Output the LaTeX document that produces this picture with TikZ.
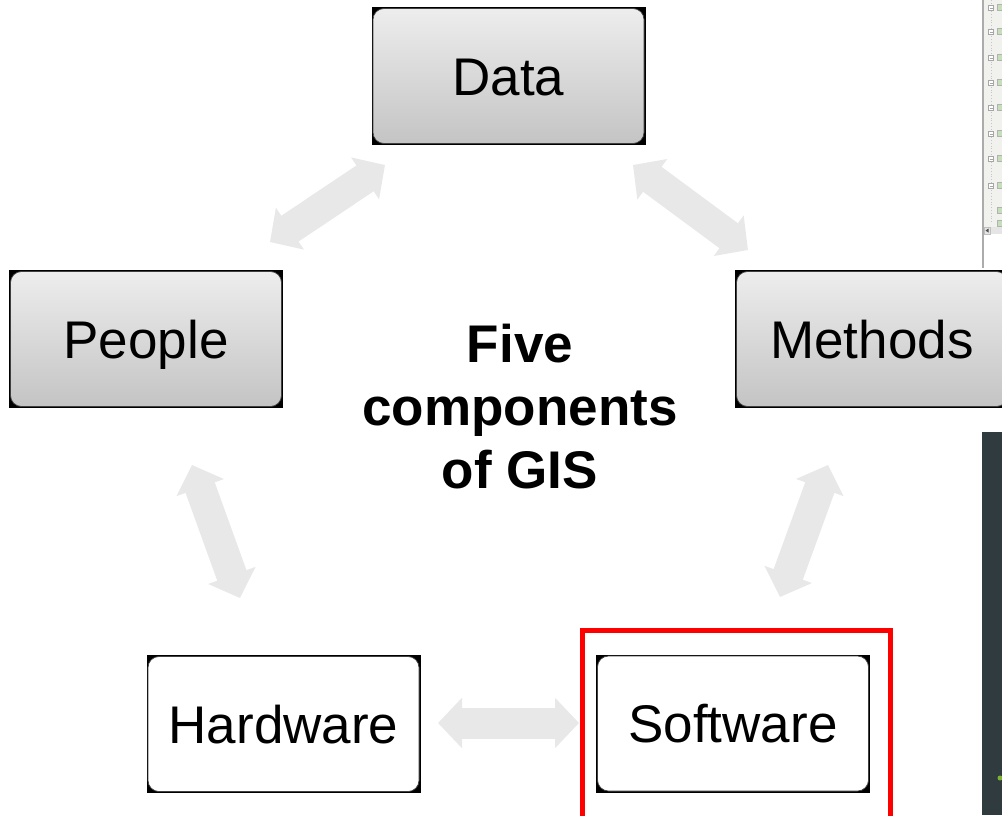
\documentclass[tikz,border=0pt]{standalone}
\usepackage{fontspec}
\setmainfont{Liberation Sans}
\usetikzlibrary{arrows.meta}
\definecolor{boxtop}{HTML}{EDEDED}
\definecolor{boxbot}{HTML}{C4C4C4}
\definecolor{linkgray}{HTML}{E8E8E8}
\definecolor{panelbg}{HTML}{F1F1EE}
\definecolor{darkpanel}{HTML}{2F3B3E}
\definecolor{iconGreen}{HTML}{5DA03A}
\begin{document}
\begin{tikzpicture}[x=1pt,y=-1pt,
  frame/.style={fill=black, minimum width=274pt, minimum height=138pt, inner sep=0pt, outer sep=0pt},
  comp/.style={rounded corners=11pt, draw=black!75, line width=0.7pt,
    minimum width=271pt, minimum height=135pt, inner sep=0pt,
    font=\fontsize{53}{60}\selectfont, text height=38pt, text depth=0pt},
  graycomp/.style={comp, top color=boxtop, bottom color=boxbot},
  whitecomp/.style={comp, fill=white},
  link/.style={draw=linkgray, line width=31pt,
    {Triangle[width=49pt,length=24pt]}-{Triangle[width=49pt,length=24pt]}},
  treeitem/.style={draw=gray!70, fill=white, line width=0.6pt, minimum size=5pt, inner sep=0pt},
  treeicon/.style={draw=gray!60, fill=iconGreen!35, line width=0.5pt, minimum size=6pt, inner sep=0pt}
]
\useasboundingbox (0,0) rectangle (1002,815);
\clip (0,0) rectangle (1002,815);
\fill[white] (0,0) rectangle (1002,815);

% side panels: tree view (top) and dark pane (bottom)
\fill[panelbg] (984,0) rectangle (1002,228);
\draw[gray!45, dotted, line width=0.8pt] (991,0) -- (991,222);
\foreach \yy in {8,32,58,83,108,134,159,186} {
  \node[treeitem] at (991,\yy) {};
  \draw[gray!70, line width=0.5pt] (989.5,\yy) -- (992.5,\yy);
  \node[treeicon] at (1000,\yy-1) {};
}
\foreach \yy in {210,223} {
  \node[treeicon] at (1000,\yy) {};
}
\fill[gray!20] (984,227) rectangle (1002,234);
\draw[gray!50, line width=0.5pt] (984,227) rectangle (990,234);
\fill[black!70] (988.5,228.5) -- (985.5,230.5) -- (988.5,232.5) -- cycle;
\draw[gray!65, line width=1.6pt] (983,0) -- (983,268);
\fill[darkpanel] (982,432) rectangle (1002,815);
\fill[iconGreen!80!yellow] (1000,778) circle (2.5pt);

% the five components
\node[frame] (dataF) at (508.5,76) {};
\node[graycomp] (data) at (508.5,76) {Data};
\node[frame] (peopleF) at (146,339) {};
\node[graycomp] (people) at (146,339) {People};
\node[frame] (methodsF) at (872,339) {};
\node[graycomp] (methods) at (872,339) {Methods};
\node[frame] (hardwareF) at (283.5,724) {};
\node[whitecomp] (hardware) at (283.5,724) {Hardware};
\node[frame] (softwareF) at (733,723.5) {};
\node[whitecomp] (software) at (733,723.5) {Software};

% highlight round Software
\node[draw=red, line width=5pt, minimum width=307.5pt, minimum height=199.5pt, inner sep=0pt]
  (highlight) at (736.25,730.25) {};

% title in the middle (base = baseline of the last line)
\node[font=\bfseries\fontsize{53}{63}\selectfont, align=center, anchor=base, inner sep=0pt]
  (title) at (520,488) {Five\\components\\of GIS};

% connector end points
\coordinate (dpA) at (385,165);
\coordinate (dpB) at (270,242);
\coordinate (dmA) at (633,165);
\coordinate (dmB) at (748,250);
\coordinate (phA) at (192,465);
\coordinate (phB) at (240,598);
\coordinate (msA) at (828,465);
\coordinate (msB) at (780,597);
\coordinate (hsA) at (438,723);
\coordinate (hsB) at (579,723);

\draw[link] (dpA) -- (dpB);
\draw[link] (dmA) -- (dmB);
\draw[link] (phA) -- (phB);
\draw[link] (msA) -- (msB);
\draw[link] (hsA) -- (hsB);
\end{tikzpicture}
\end{document}
